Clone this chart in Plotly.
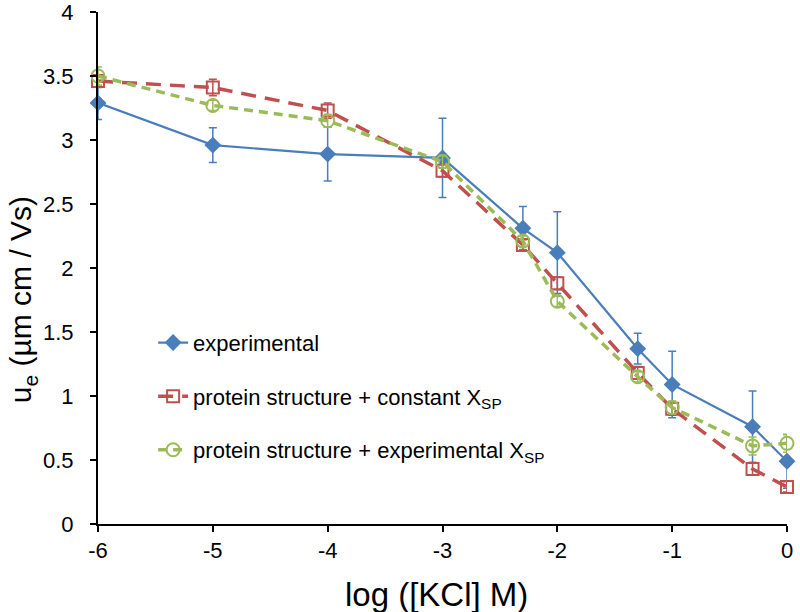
import plotly.graph_objects as go

x_vals = [-6, -5, -4, -3, -2.3, -2, -1.3, -1, -0.3, 0]

exp_y = [3.29, 2.96, 2.89, 2.86, 2.31, 2.12, 1.37, 1.09, 0.76, 0.49]
exp_err = [0.13, 0.135, 0.21, 0.31, 0.17, 0.32, 0.12, 0.26, 0.28, 0.21]

const_y = [3.46, 3.41, 3.23, 2.76, 2.18, 1.88, 1.18, 0.9, 0.43, 0.29]
const_err = [0.05, 0.065, 0.06, 0.05, 0.04, 0.05, 0.05, 0.05, 0.05, 0.04]

expx_y = [3.5, 3.27, 3.15, 2.83, 2.21, 1.74, 1.15, 0.91, 0.61, 0.63]
expx_err = [0.07, 0.04, 0.05, 0.05, 0.04, 0.04, 0.04, 0.05, 0.07, 0.07]

names = ["experimental",
         "protein structure + constant X<sub>SP</sub>",
         "protein structure + experimental X<sub>SP</sub>"]

x_tickvals = [-6, -5, -4, -3, -2, -1, 0]
x_ticktext = ["-6", "-5", "-4", "-3", "-2", "-1", "0"]
y_tickvals = [0, 0.5, 1, 1.5, 2, 2.5, 3, 3.5, 4]
y_ticktext = ["0", "0.5", "1", "1.5", "2", "2.5", "3", "3.5", "4"]

x_title = "log ([KCl] M)"
y_title = "u<sub>e</sub> (µm cm / Vs)"

BLUE = "#4A7EBB"
RED = "#C0504D"
GREEN = "#9BBB59"

fig = go.Figure()

fig.add_trace(go.Scatter(
    x=x_vals, y=exp_y, name=names[0], legendgroup="a",
    mode="lines+markers",
    line=dict(color=BLUE, width=2.2),
    marker=dict(symbol="diamond", size=13, color=BLUE),
    error_y=dict(type="data", array=exp_err, color=BLUE, thickness=1.5, width=4),
    cliponaxis=False,
))
fig.add_trace(go.Scatter(
    x=x_vals, y=const_y, name=names[1], legendgroup="b",
    mode="lines+markers",
    line=dict(color=RED, width=3.5, dash="15px,9px"),
    marker=dict(symbol="square-open", size=12, color=RED, line=dict(width=2, color=RED)),
    error_y=dict(type="data", array=const_err, color=RED, thickness=1.5, width=4),
    cliponaxis=False,
))
fig.add_trace(go.Scatter(
    x=x_vals, y=expx_y, name=names[2], legendgroup="c",
    mode="lines+markers",
    line=dict(color=GREEN, width=3.5, dash="9px,6px"),
    marker=dict(symbol="circle-open", size=13, color=GREEN, line=dict(width=2, color=GREEN)),
    error_y=dict(type="data", array=expx_err, color=GREEN, thickness=1.5, width=4),
    cliponaxis=False,
))

FONT = "Arial, Liberation Sans, sans-serif"

fig.update_layout(
    width=800, height=612,
    margin=dict(l=98, r=13, t=12, b=88, autoexpand=False),
    paper_bgcolor="white", plot_bgcolor="white",
    font=dict(family=FONT, color="black", size=22),
    showlegend=True,
    legend=dict(x=0.08, y=0.395, xanchor="left", yanchor="top",
                bgcolor="rgba(0,0,0,0)", font=dict(size=22, family=FONT),
                tracegroupgap=22, itemwidth=30),
    xaxis=dict(range=[-6, 0], tickmode="array", tickvals=x_tickvals, ticktext=x_ticktext,
               ticks="outside", ticklen=6, tickwidth=2, tickcolor="black",
               showline=True, linecolor="black", linewidth=2, showgrid=False,
               zeroline=False, tickfont=dict(size=22), ticklabeloverflow="allow"),
    yaxis=dict(range=[0, 4], tickmode="array", tickvals=y_tickvals, ticktext=y_ticktext,
               ticks="outside", ticklen=6, tickwidth=2, tickcolor="black",
               showline=True, linecolor="black", linewidth=2, showgrid=False,
               zeroline=False, tickfont=dict(size=22), ticklabelstandoff=12,
               ticklabeloverflow="allow"),
    annotations=[
        dict(text=y_title, textangle=-90, xref="paper", yref="y",
             x=-0.11, y=1.75, xanchor="center", yanchor="middle",
             showarrow=False, font=dict(size=30, family=FONT)),
        dict(text=x_title, xref="x", yref="paper",
             x=-3.05, y=-0.137, xanchor="center", yanchor="middle",
             showarrow=False, font=dict(size=33, family=FONT)),
    ],
)

fig.write_html(
    "out.html",
    config={"displayModeBar": False},
    post_script="document.body.style.margin='0';document.body.style.overflow='hidden';",
)
